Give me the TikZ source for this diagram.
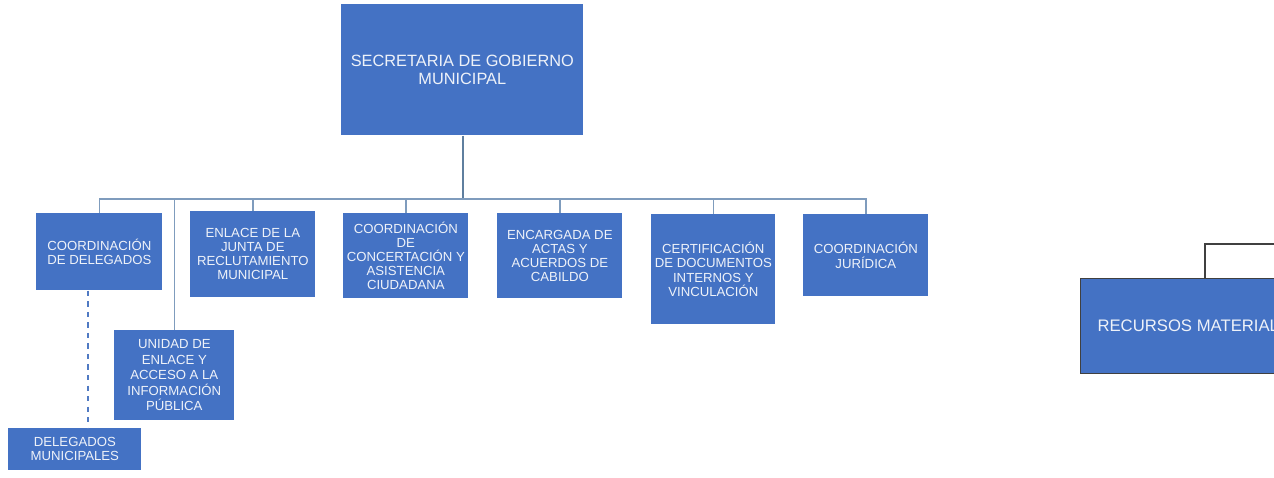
\documentclass[tikz,border=0pt]{standalone}
\usepackage{fontspec}
\setmainfont{Liberation Sans}
\definecolor{boxblue}{HTML}{4472C4}
\definecolor{boxtext}{HTML}{EEF2F9}
\definecolor{linkblue}{HTML}{7F9CBD}
\definecolor{linkdark}{HTML}{5F7F9F}
\begin{document}
\begin{tikzpicture}[x=0.02cm,y=-0.02cm,
	box/.style={fill=boxblue,text=boxtext,align=center,anchor=north west,inner sep=1pt,font=\fontsize{7.5}{8}\selectfont},
	link/.style={draw=linkblue,line width=0.8pt}]
	\useasboundingbox (0,0) rectangle (1274,477);
	\clip (0,0) rectangle (1274,477);
	\node[box,minimum width=4.84cm,minimum height=2.62cm,font=\fontsize{9.3}{10.2}\selectfont] (sec) at (341,4) {SECRETARIA DE GOBIERNO\\MUNICIPAL};
	\node[box,minimum width=2.52cm,minimum height=1.54cm] (deleg) at (36,213) {COORDINACIÓN\\DE DELEGADOS};
	\node[box,minimum width=2.50cm,minimum height=1.72cm] (junta) at (190,211) {ENLACE DE LA\\JUNTA DE\\RECLUTAMIENTO\\MUNICIPAL};
	\node[box,minimum width=2.50cm,minimum height=1.70cm] (concert) at (343,213) {COORDINACIÓN\\DE\\CONCERTACIÓN Y\\ASISTENCIA\\CIUDADANA};
	\node[box,minimum width=2.50cm,minimum height=1.70cm] (actas) at (497,213) {ENCARGADA DE\\ACTAS Y\\ACUERDOS DE\\CABILDO};
	\node[box,minimum width=2.48cm,minimum height=2.20cm] (certif) at (651,214) {CERTIFICACIÓN\\DE DOCUMENTOS\\INTERNOS Y\\VINCULACIÓN};
	\node[box,minimum width=2.50cm,minimum height=1.64cm] (jurid) at (803,214) {COORDINACIÓN\\JURÍDICA};
	\node[box,minimum width=2.40cm,minimum height=1.80cm,font=\fontsize{7.5}{8.8}\selectfont] (unidad) at (114,330) {UNIDAD DE\\ENLACE Y\\ACCESO A LA\\INFORMACIÓN\\PÚBLICA};
	\node[box,minimum width=2.66cm,minimum height=0.84cm] (delmun) at (8,428) {DELEGADOS\\MUNICIPALES};
	\node[box,draw=black!75,line width=0.6pt,minimum height=1.90cm,inner xsep=0.34cm,font=\fontsize{9.5}{11}\selectfont] (rec) at (1080,278) {RECURSOS MATERIALES\qquad};
	% connectors
	\coordinate (bus) at (463,199);
	\draw[link,draw=linkdark,line width=1pt] (sec.south -| bus) -- (bus);
	\foreach \n in {deleg,junta,concert,actas,certif,jurid}
		\draw[link] (bus) -| (\n.north);
	\draw[link] (bus) -| (unidad.north);
	\draw[link,draw=boxblue!80!linkblue,line width=1pt,dashed] (deleg.south) ++(-11,0) coordinate (dd) -- (dd |- delmun.north);
	\coordinate (recend) at (1290,244);
	\draw[black!75,line width=0.6pt] (rec.north west) ++(125,0) |- (recend);
\end{tikzpicture}
\end{document}
